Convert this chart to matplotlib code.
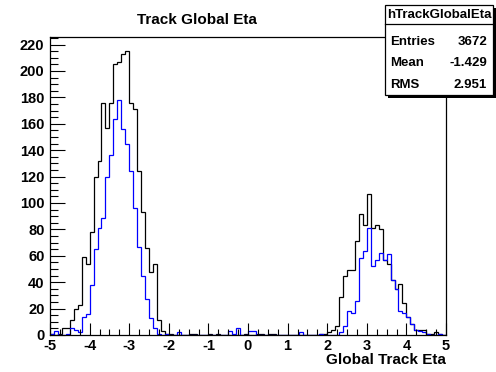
import numpy as np
import matplotlib
matplotlib.use("Agg")
import matplotlib.pyplot as plt
from matplotlib.patches import Rectangle
from matplotlib.ticker import MultipleLocator

# histogram: 100 bins from -5 to 5
x_min, x_max, n_bins = -5.0, 5.0, 100

# black histogram (hTrackGlobalEta)
eta_all = [1, 0, 1, 5, 5, 11, 20, 23, 59, 54,
           78, 120, 132, 176, 157, 176, 205, 207, 213, 215,
           176, 171, 124, 93, 66, 48, 54, 11, 3, 1,
           1, 0, 0, 0, 0, 1, 1, 0, 0, 0,
           1, 0, 1, 0, 0, 0, 0, 0, 0, 1,
           0, 0, 1, 1, 0, 1, 1, 0, 0, 0,
           0, 0, 0, 0, 0, 0, 0, 0, 1, 1,
           2, 4, 7, 29, 45, 49, 49, 71, 92, 83,
           107, 81, 83, 80, 57, 54, 42, 35, 39, 24,
           14, 8, 4, 4, 4, 1, 1, 2, 1, 0]

# blue histogram
eta_sel = [1, 3, 0, 0, 1, 5, 4, 2, 14, 16,
           38, 65, 81, 89, 120, 136, 164, 178, 156, 145,
           124, 96, 67, 45, 27, 13, 5, 1, 0, 1,
           0, 0, 2, 0, 0, 0, 0, 0, 0, 0,
           0, 0, 0, 0, 0, 3, 1, 5, 0, 0,
           3, 3, 0, 0, 0, 0, 0, 0, 0, 0,
           0, 0, 0, 2, 0, 0, 0, 0, 1, 0,
           0, 0, 0, 2, 7, 18, 17, 26, 58, 64,
           81, 52, 57, 62, 57, 61, 42, 35, 18, 17,
           14, 8, 4, 3, 2, 1, 0, 0, 1, 0]

stat_names = ["Entries", "Mean", "RMS"]
stat_values = ["3672", "-1.429", "2.951"]

W, H = 496, 372
fnt = "Liberation Sans"
plt.rcParams["axes.unicode_minus"] = False

fig = plt.figure(figsize=(W / 100, H / 100), dpi=100)
ax = fig.add_axes([50 / W, 1 - 335 / H, 396 / W, 298 / H])

edges = np.linspace(x_min, x_max, n_bins + 1)
ax.stairs(eta_all, edges, color="black", lw=0.9)
ax.stairs(eta_sel, edges, color="#0000ff", lw=0.9)

ax.set_xlim(x_min, x_max)
ax.set_ylim(0, 1.05 * max(eta_all))

ax.xaxis.set_major_locator(MultipleLocator(1))
ax.xaxis.set_minor_locator(MultipleLocator(0.25))
ax.yaxis.set_major_locator(MultipleLocator(20))
ax.yaxis.set_minor_locator(MultipleLocator(5))
ax.tick_params(axis="both", which="both", direction="in", top=False, right=False,
               width=0.8, colors="black")
ax.tick_params(axis="x", which="major", length=9, pad=3)
ax.tick_params(axis="x", which="minor", length=4.5)
ax.tick_params(axis="y", which="major", length=11, pad=4)
ax.tick_params(axis="y", which="minor", length=5.5)
for lab in ax.get_xticklabels() + ax.get_yticklabels():
    lab.set_fontfamily(fnt)
    lab.set_fontweight("bold")
    lab.set_fontsize(10.5)
for sp in ax.spines.values():
    sp.set_linewidth(0.9)

# title and axis label
fig.text(197 / W, 1 - 20 / H, "Track Global Eta", ha="center", va="center",
         fontfamily=fnt, fontweight="bold", fontsize=11)
fig.text(446 / W, 1 - 360 / H, "Global Track Eta", ha="right", va="center",
         fontfamily=fnt, fontweight="bold", fontsize=11)

# stats box
def px(x, y):
    return x / W, 1 - y / H

bx0, by0, bx1, by1 = 385, 5, 493, 95
shadow = Rectangle(px(bx0 + 3, by1 + 3), (bx1 - bx0) / W, (by1 - by0) / H,
                   transform=fig.transFigure, facecolor="black", edgecolor="none", zorder=5)
box = Rectangle(px(bx0, by1), (bx1 - bx0) / W, (by1 - by0) / H,
                transform=fig.transFigure, facecolor="white", edgecolor="black",
                lw=0.9, zorder=6)
fig.patches.extend([shadow, box])
fig.lines.append(plt.Line2D([bx0 / W, bx1 / W], [1 - 24 / H, 1 - 24 / H],
                            transform=fig.transFigure, color="black", lw=0.9, zorder=7))
fig.text((bx0 + bx1) / 2 / W, 1 - 15 / H, "hTrackGlobalEta", ha="center", va="center",
         fontfamily=fnt, fontweight="bold", fontsize=9.5, zorder=8)
for i, (name, val) in enumerate(zip(stat_names, stat_values)):
    yy = 1 - (42 + 21.5 * i) / H
    fig.text(390 / W, yy, name, ha="left", va="center",
             fontfamily=fnt, fontweight="bold", fontsize=9.5, zorder=8)
    fig.text(487 / W, yy, val, ha="right", va="center",
             fontfamily=fnt, fontweight="bold", fontsize=9.5, zorder=8)

fig.savefig("out.png", dpi=100)
